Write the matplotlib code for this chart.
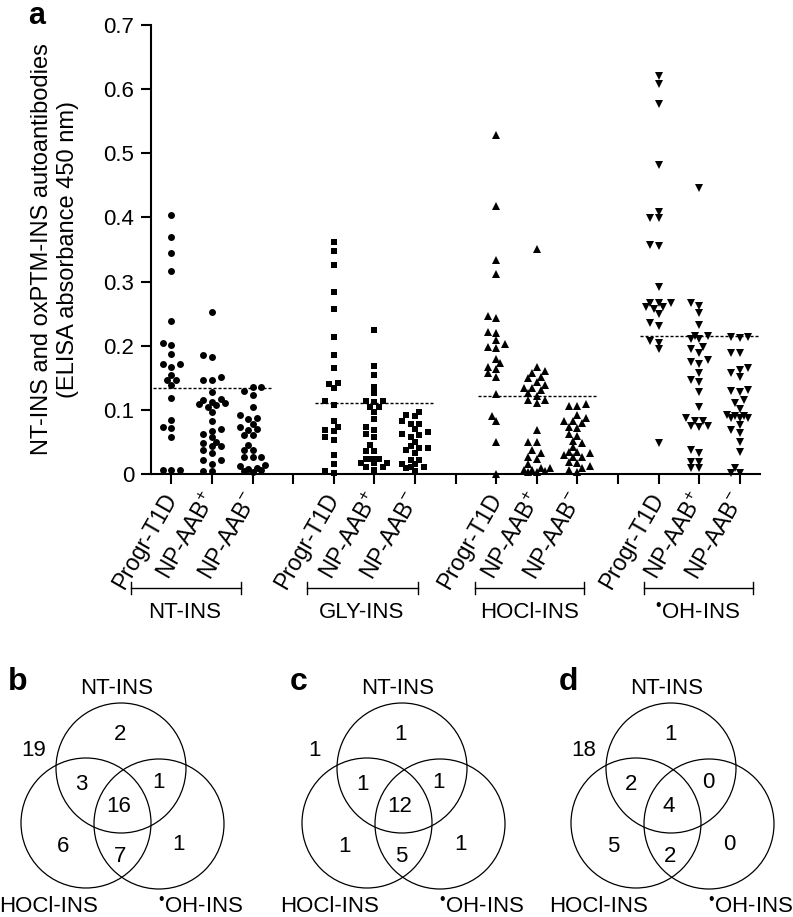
import numpy as np
import matplotlib
matplotlib.use('Agg')
import matplotlib.pyplot as plt
from matplotlib.patches import Circle
from matplotlib.lines import Line2D

plt.rcParams['font.family'] = ['Liberation Sans', 'DejaVu Sans']
plt.rcParams['mathtext.fontset'] = 'custom'
plt.rcParams['mathtext.rm'] = 'Liberation Sans'
plt.rcParams['mathtext.it'] = 'Liberation Sans:italic'
plt.rcParams['mathtext.bf'] = 'Liberation Sans:bold'

# ---------------- data ----------------
groups = ['NT-INS', 'GLY-INS', 'HOCl-INS', r'$^{•}$OH-INS']
subgroups = ['Progr-T1D', r'NP-AAB$^{+}$', r'NP-AAB$^{-}$']
yticks = [0, 0.1, 0.2, 0.3, 0.4, 0.5, 0.6, 0.7]
ytick_labels = ['0', '0.1', '0.2', '0.3', '0.4', '0.5', '0.6', '0.7']

nt_t1d = [0.404, 0.369, 0.344, 0.316, 0.239, 0.205, 0.201, 0.187, 0.171, 0.171, 0.167,
          0.155, 0.147, 0.146, 0.138, 0.118, 0.084, 0.073, 0.071, 0.057, 0.007, 0.007, 0.007]
nt_aabp = [0.253, 0.185, 0.182, 0.151, 0.147, 0.146, 0.128, 0.117, 0.115, 0.113, 0.110,
           0.109, 0.107, 0.104, 0.096, 0.083, 0.070, 0.067, 0.062, 0.057, 0.050, 0.049,
           0.044, 0.043, 0.037, 0.032, 0.022, 0.022, 0.016, 0.005, 0.005]
nt_aabn = [0.136, 0.136, 0.129, 0.123, 0.105, 0.092, 0.087, 0.086, 0.078, 0.074, 0.070,
           0.069, 0.061, 0.061, 0.045, 0.038, 0.037, 0.026, 0.026, 0.026, 0.014, 0.012,
           0.010, 0.008, 0.006, 0.005, 0.003]

gly_t1d = [0.362, 0.347, 0.326, 0.283, 0.258, 0.214, 0.185, 0.165, 0.142, 0.141, 0.134,
           0.114, 0.108, 0.082, 0.074, 0.069, 0.067, 0.057, 0.053, 0.029, 0.015, 0.005, 0.002]
gly_aabp = [0.225, 0.168, 0.155, 0.136, 0.126, 0.114, 0.114, 0.113, 0.105, 0.104, 0.097,
            0.085, 0.074, 0.069, 0.062, 0.057, 0.045, 0.036, 0.036, 0.024, 0.023, 0.024,
            0.023, 0.017, 0.017, 0.017, 0.011, 0.011, 0.006]
gly_aabn = [0.097, 0.092, 0.090, 0.082, 0.078, 0.078, 0.070, 0.066, 0.063, 0.061, 0.057,
            0.050, 0.043, 0.040, 0.038, 0.040, 0.033, 0.022, 0.022, 0.015, 0.011, 0.009,
            0.011, 0.015, 0.005]

hocl_t1d = [0.529, 0.418, 0.333, 0.312, 0.246, 0.243, 0.222, 0.220, 0.209, 0.202, 0.198,
            0.196, 0.180, 0.173, 0.167, 0.164, 0.157, 0.151, 0.125, 0.090, 0.082, 0.050, 0.0]
hocl_aabp = [0.351, 0.167, 0.160, 0.157, 0.152, 0.149, 0.144, 0.139, 0.134, 0.134, 0.131,
             0.126, 0.122, 0.115, 0.115, 0.110, 0.069, 0.050, 0.050, 0.037, 0.032, 0.026,
             0.024, 0.016, 0.010, 0.007, 0.005, 0.007, 0.010, 0.003, 0.003]
hocl_aabn = [0.109, 0.106, 0.106, 0.092, 0.087, 0.082, 0.080, 0.082, 0.074, 0.071, 0.063,
             0.059, 0.052, 0.048, 0.042, 0.035, 0.033, 0.035, 0.030, 0.027, 0.026, 0.019,
             0.017, 0.012, 0.007, 0.010, 0.003]

oh_t1d = [0.620, 0.608, 0.577, 0.482, 0.409, 0.399, 0.399, 0.357, 0.356, 0.291, 0.267,
          0.266, 0.266, 0.261, 0.257, 0.261, 0.250, 0.235, 0.230, 0.208, 0.205, 0.195, 0.049]
oh_aabp = [0.446, 0.267, 0.262, 0.251, 0.232, 0.215, 0.215, 0.210, 0.210, 0.198, 0.195,
           0.189, 0.178, 0.175, 0.172, 0.158, 0.146, 0.143, 0.128, 0.105, 0.087, 0.082,
           0.075, 0.074, 0.075, 0.082, 0.037, 0.032, 0.019, 0.019, 0.009, 0.009]
oh_aabn = [0.214, 0.212, 0.214, 0.188, 0.188, 0.165, 0.162, 0.157, 0.151, 0.131, 0.130,
           0.128, 0.115, 0.111, 0.102, 0.092, 0.090, 0.087, 0.088, 0.091, 0.088, 0.076,
           0.069, 0.064, 0.050, 0.035, 0.009, 0.002, 0.002]

cutoffs = [0.134, 0.111, 0.122, 0.215]

venn_sets = ['NT-INS', 'HOCl-INS', r'$^{•}$OH-INS']
# outside, NT only, NT&HOCl, NT&OH, all three, HOCl only, HOCl&OH, OH only
venn_b = [19, 2, 3, 1, 16, 6, 7, 1]
venn_c = [1, 1, 1, 1, 12, 1, 5, 1]
venn_d = [18, 1, 2, 0, 4, 5, 2, 0]

columns = [[nt_t1d, nt_aabp, nt_aabn], [gly_t1d, gly_aabp, gly_aabn],
           [hocl_t1d, hocl_aabp, hocl_aabn], [oh_t1d, oh_aabp, oh_aabn]]
markers = ['o', 's', '^', 'v']
msizes = [5.0, 4.3, 5.4, 5.4]

# ---------------- figure ----------------
W, H = 793, 917
fig = plt.figure(figsize=(W / 100, H / 100), dpi=100)


def fx(px):
    return px / W


def fy(py):
    return 1 - py / H


FS = 16
ax = fig.add_axes([fx(151), fy(474), fx(760) - fx(151), fy(25) - fy(474)])
ax.set_xlim(0.5, 15.5)
ax.set_ylim(0, 0.7)
for s in ['top', 'right']:
    ax.spines[s].set_visible(False)
for s in ['left', 'bottom']:
    ax.spines[s].set_linewidth(1.5)

px_x = (760 - 151) / 15.0
px_y = (474 - 25) / 0.7


def swarm(vals, step_px=4.3, dmin_px=6.0):
    vals = np.asarray(vals, float)
    order = np.argsort(vals, kind='stable')
    placed = []
    offs = np.zeros(len(vals))
    for i in order:
        y = vals[i] * px_y
        best_x, best_d = 0.0, -1.0
        for k in [0, -1, 1, -2, 2, -3, 3]:
            x = k * step_px
            d = min([np.hypot(x - a, y - b) for a, b in placed] or [1e9])
            if d >= dmin_px:
                best_x = x
                break
            if d > best_d + 0.5:
                best_x, best_d = x, d
        placed.append((best_x, y))
        offs[i] = best_x
    return offs / px_x


tick_pos = []
tick_lab = []
for g, cols in enumerate(columns):
    base = 1 + 4 * g
    for j, vals in enumerate(cols):
        pos = base + j
        xs = pos + swarm(vals)
        ax.plot(xs, vals, linestyle='none', marker=markers[g], ms=msizes[g],
                color='black', mec='black', mew=0, clip_on=False)
        tick_pos.append(pos)
        tick_lab.append(subgroups[j])
    ax.plot([base - 0.45, base + 2.45], [cutoffs[g]] * 2, color='black', lw=1.0,
            linestyle=(0, (2.2, 1.4)))
    if g < 3:
        tick_pos.append(base + 3)
        tick_lab.append('')

order = np.argsort(tick_pos)
ax.set_xticks(np.array(tick_pos)[order])
ax.set_xticklabels(np.array(tick_lab)[order], rotation=60, ha='right', va='center',
                   rotation_mode='anchor', fontsize=16.5)
ax.set_yticks(yticks)
ax.set_yticklabels(ytick_labels, fontsize=FS)
ax.tick_params(axis='both', direction='out', length=7, width=1.5, pad=5)
ax.tick_params(axis='x', pad=8)

fig.text(fx(55), fy(249), 'NT-INS and oxPTM-INS autoantibodies\n(ELISA absorbance 450 nm)',
         rotation=90, ha='center', va='center', fontsize=17, linespacing=1.2)
fig.text(fx(37), fy(24), 'a', fontsize=22, fontweight='bold', ha='center', va='baseline')

# group brackets
brackets = [(131, 241, 185), (307, 418, 362), (475, 584, 530), (644, 753, 698)]
for (x0, x1, xc), name in zip(brackets, groups):
    fig.add_artist(Line2D([fx(x0), fx(x1)], [fy(588)] * 2, color='black', lw=1.0))
    for xe in (x0, x1):
        fig.add_artist(Line2D([fx(xe)] * 2, [fy(582), fy(594)], color='black', lw=1.0))
    fig.text(fx(xc), fy(613), name, ha='center', va='center', fontsize=FS)

# ---------------- venn diagrams ----------------
R = 65
centers = [(0, 0), (-35, -55), (38, -56)]
txt_pos = [(-87, 18), (-1, 33), (-40, -16), (37, -15), (-2, -39), (-58, -79), (-1, -88), (58, -77)]
label_pos = [(-4, 80), (-72, -139), (80, -139)]
panels = [('b', venn_b, 121), ('c', venn_c, 402), ('d', venn_d, 671)]
for letter, counts, cx in panels:
    vx = fig.add_axes([fx(cx - 135), fy(917), fx(270), fy(655) - fy(917)])
    vx.set_xlim(-135, 135)
    vx.set_ylim(768 - 917, 768 - 655)
    vx.axis('off')
    for (ccx, ccy) in centers:
        vx.add_patch(Circle((ccx, ccy), R, fill=False, ec='black', lw=0.9))
    for (tx, ty), n in zip(txt_pos, counts):
        vx.text(tx, ty, str(n), ha='center', va='center', fontsize=FS)
    for (tx, ty), name in zip(label_pos, venn_sets):
        vx.text(tx, ty, name, ha='center', va='center', fontsize=FS)
    vx.text(-103, 86, letter, ha='center', va='center', fontsize=23, fontweight='bold')

fig.savefig('out.png', dpi=100)
